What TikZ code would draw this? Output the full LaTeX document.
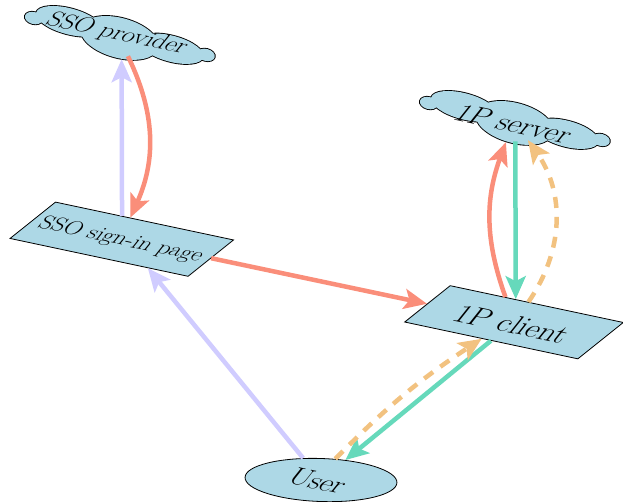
\documentclass[tikz,border=0pt]{standalone}
\usetikzlibrary{shapes.geometric,arrows.meta,calc}
\definecolor{nodefill}{RGB}{173,216,230}
\definecolor{salmonc}{RGB}{250,142,122}
\definecolor{lavc}{RGB}{208,204,255}
\definecolor{tealc}{RGB}{102,217,187}
\definecolor{orangec}{RGB}{242,194,128}
\begin{document}
\begin{tikzpicture}[x=1pt,y=-1pt,
  arr/.style={line width=4.5pt,-{Stealth[length=23pt,width=20pt,inset=5pt]}},
  dashpat/.style={dash pattern=on 11pt off 9pt},
  para/.style={draw,line width=0.8pt,fill=nodefill,inner sep=0pt,minimum height=45pt,rotate=-12,xslant=0.82},
  anchorell/.style={ellipse,inner sep=0pt,minimum width=196pt,minimum height=42pt,rotate=-15},
  lbl/.style={inner sep=0pt,rotate=-12,xslant=0.5,xscale=1.18},
  cloudpic/.pic={
    \draw[line width=1.8pt] (-88,5) ellipse[x radius=9pt,y radius=6pt]
      (-53,-1) ellipse[x radius=34pt,y radius=13pt]
      (0,2) ellipse[x radius=40pt,y radius=20pt]
      (53,-1) ellipse[x radius=33pt,y radius=13pt]
      (88,-4) ellipse[x radius=9pt,y radius=6pt];
    \fill[nodefill] (-88,5) ellipse[x radius=9pt,y radius=6pt]
      (-53,-1) ellipse[x radius=34pt,y radius=13pt]
      (0,2) ellipse[x radius=40pt,y radius=20pt]
      (53,-1) ellipse[x radius=33pt,y radius=13pt]
      (88,-4) ellipse[x radius=9pt,y radius=6pt];
  }]
\path[use as bounding box] (0,0) rectangle (623,501);

% clouds
\pic[rotate=-15] at (120,36) {cloudpic};
\pic[rotate=-15] at (515,121) {cloudpic};
\node[anchorell] (sp) at (120,36) {};
\node[anchorell] (srv) at (515,121) {};

% boxes
\node[para,minimum width=182pt] (signin) at (121.8,239.2) {};
\node[para,minimum width=177pt] (client) at (514,322.25) {};
\node[ellipse,draw,line width=0.8pt,fill=nodefill,inner sep=0pt,minimum width=152pt,minimum height=43pt,rotate=-2] (user) at (321,480) {};

% labels
\node[lbl,font=\fontsize{22.3}{26}\selectfont] (spT) at (117,34) {SSO provider};
\node[lbl,font=\fontsize{26.2}{30}\selectfont] (srvT) at (514,124) {1P server};
\node[lbl,font=\fontsize{20.5}{24}\selectfont] (signinT) at (121,240) {SSO sign-in page};
\node[lbl,font=\fontsize{27}{31}\selectfont] (clientT) at (512,324) {1P client};
\node[lbl,font=\fontsize{25.4}{29}\selectfont] (userT) at (318,481) {User};

% connectors
\draw[arr,lavc] ($(signin.north west)!0.372!(signin.north east)$) -- ($(sp.south)+(7.1,2.7)$);
\draw[arr,salmonc] ($(sp.south)+(13.4,-0.3)$) to[bend left=25] ($(signin.north west)!0.4185!(signin.north east)$);
\draw[arr,salmonc] (signin.east) -- (client.west);
\draw[arr,lavc] (user) -- ($(signin.south west)!0.775!(signin.south east)$);
\draw[arr,salmonc] ($(client.north west)!0.318!(client.north east)$) to[bend left=20] ($(srv.south)+(-3.6,0.7)$);
\draw[arr,tealc] ($(srv.south)+(5.8,0)$) -- ($(client.north west)!0.377!(client.north east)$);
\draw[arr,orangec,dashpat] ($(client.north west)!0.45!(client.north east)$) to[bend right=35] ($(srv.south)+(18.4,-1.3)$);
\draw[arr,tealc] (client.south) -- (user);
\draw[arr,orangec,dashpat] (user.58) to[bend left=6] ($(client.south west)!0.447!(client.south east)$);
\end{tikzpicture}
\end{document}
